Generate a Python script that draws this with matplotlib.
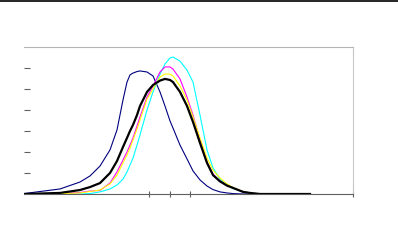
import matplotlib
matplotlib.use("Agg")
import matplotlib.pyplot as plt
from matplotlib.lines import Line2D

# positions along the x axis (chart units)
x = [0, 36, 56, 66, 76, 86, 93, 99, 103, 106, 109, 113, 116, 123, 129, 136,
     141, 146, 149, 156, 163, 169, 176, 183, 189, 196, 203, 209, 219, 226,
     236, 256, 286]

navy = [0.02, 0.24, 0.57, 0.86, 1.33, 2.10, 3.05, 4.48, 5.33, 5.67, 5.76, 5.83,
        5.86, 5.81, 5.62, 4.86, 4.19, 3.48, 3.14, 2.33, 1.67, 1.10, 0.67, 0.38,
        0.21, 0.10, 0.05, 0.02, 0, 0, 0, 0, 0]
cyan = [0, 0, 0, 0.02, 0.10, 0.24, 0.43, 0.71, 1.05, 1.38, 1.71, 2.33, 2.81,
        4.00, 4.86, 5.71, 6.19, 6.48, 6.52, 6.33, 5.90, 5.33, 3.76, 2.10, 1.24,
        0.71, 0.43, 0.26, 0.12, 0.05, 0, 0, 0]
magenta = [0, 0.02, 0.07, 0.14, 0.17, 0.52, 1.05, 1.62, 2.00, 2.33, 2.67, 3.24,
           3.67, 4.62, 5.14, 5.81, 6.05, 6.05, 5.95, 5.48, 4.62, 3.76, 2.57,
           1.52, 0.95, 0.62, 0.43, 0.29, 0.12, 0.05, 0, 0, 0]
yellow = [0, 0.02, 0.05, 0.12, 0.19, 0.48, 0.90, 1.48, 1.86, 2.19, 2.57, 3.10,
          3.52, 4.52, 5.00, 5.57, 5.71, 5.71, 5.62, 5.14, 4.48, 3.67, 2.67,
          1.71, 1.14, 0.76, 0.48, 0.31, 0.12, 0.05, 0, 0, 0]
black = [0, 0.05, 0.19, 0.33, 0.52, 1.00, 1.57, 2.24, 2.67, 3.00, 3.29, 3.76,
         4.19, 4.86, 5.19, 5.40, 5.48, 5.43, 5.33, 4.86, 4.19, 3.43, 2.43,
         1.48, 0.90, 0.60, 0.40, 0.29, 0.10, 0.05, 0, 0, 0]

xticks = [125, 146, 166, 329]
yticks = [1, 2, 3, 4, 5, 6]

W, H = 398, 252
fig = plt.figure(figsize=(W / 100, H / 100), dpi=100)
ax = fig.add_axes([24 / W, (H - 194) / H, 329 / W, 147 / H])

ax.plot(x, navy, color="#000080", lw=0.8)
ax.plot(x, cyan, color="#00ffff", lw=0.8)
ax.plot(x, magenta, color="#ff00ff", lw=0.8)
ax.plot(x, yellow, color="#ffff00", lw=0.8)
ax.plot(x, black, color="black", lw=1.6)

ax.set_xlim(0, 329)
ax.set_ylim(0, 7)
ax.set_xticks(xticks)
ax.set_yticks(yticks)
ax.set_xticklabels([])
ax.set_yticklabels([])
ax.tick_params(axis="y", direction="in", length=4.5, width=0.8, color="#606060")
ax.tick_params(axis="x", direction="inout", length=5, width=0.8, color="#606060")

ax.spines["left"].set_visible(False)
ax.spines["top"].set_color("#b4b4b4")
ax.spines["right"].set_color("#c8c8c8")
ax.spines["bottom"].set_color("#606060")
for s in ax.spines.values():
    s.set_linewidth(0.8)

# black rule along the top of the picture
fig.add_artist(Line2D([0, 1], [1 - 0.6 / H, 1 - 0.6 / H], color="black", lw=1.2,
                      transform=fig.transFigure))

fig.savefig("out.png", dpi=100)
